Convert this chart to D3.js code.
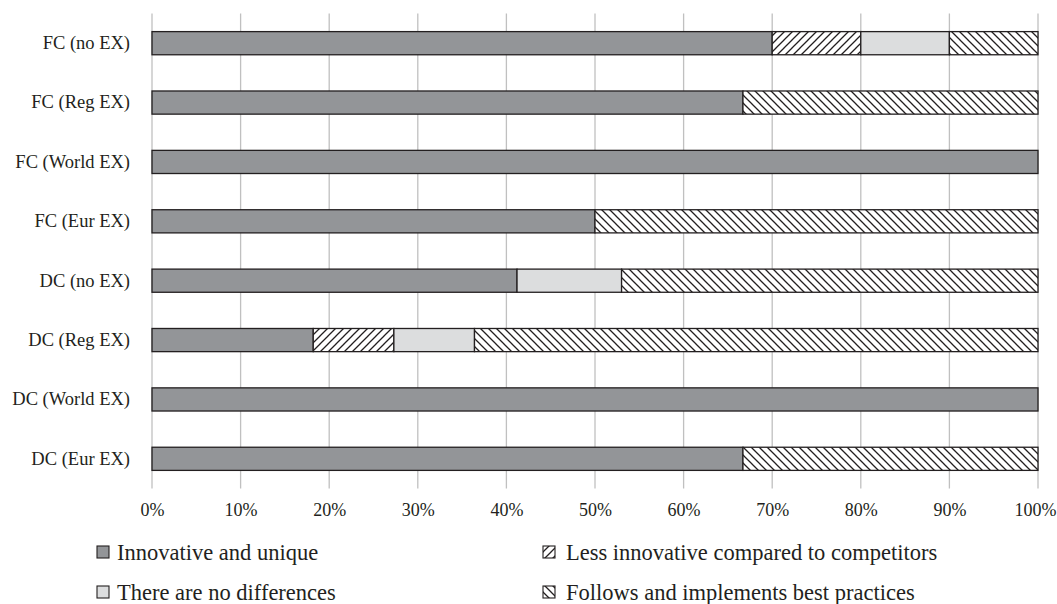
<!DOCTYPE html>
<html><head><meta charset="utf-8">
<script src="https://cdn.jsdelivr.net/npm/d3@7"></script>
<style>body{margin:0;background:#fff}svg text{font-family:"Liberation Serif","DejaVu Serif",serif;fill:#231f20}</style>
</head><body><svg id="c" width="1057" height="604"></svg>
<script>
const categories = ["FC (no EX)","FC (Reg EX)","FC (World EX)","FC (Eur EX)","DC (no EX)","DC (Reg EX)","DC (World EX)","DC (Eur EX)"];
const seriesNames = ["Innovative and unique","Less innovative compared to competitors","There are no differences","Follows and implements best practices"];
const innovative = [70, 66.7, 100, 50, 41.2, 18.2, 100, 66.7];
const lessInnovative = [10, 0, 0, 0, 0, 9.1, 0, 0];
const noDifferences = [10, 0, 0, 0, 11.8, 9.1, 0, 0];
const bestPractices = [10, 33.3, 0, 50, 47.0, 63.6, 0, 33.3];
const tickValues = [0,10,20,30,40,50,60,70,80,90,100];
const tickLabels = ["0%","10%","20%","30%","40%","50%","60%","70%","80%","90%","100%"];

const svg = d3.select("#c");
const defs = svg.append("defs");
function hatch(id, dir){
  const p = defs.append("pattern").attr("id",id).attr("patternUnits","userSpaceOnUse")
    .attr("width",8).attr("height",8);
  p.append("rect").attr("width",8).attr("height",8).attr("fill","#fff");
  const d = dir>0 ? "M-2,10 L10,-2 M-2,2 L2,-2 M6,10 L10,6" : "M-2,-2 L10,10 M-2,6 L2,10 M6,-2 L10,2";
  p.append("path").attr("d",d).attr("stroke","#231f20").attr("stroke-width",1.3);
}
hatch("hf",1); hatch("hb",-1);
const fills = ["#939598","url(#hf)","#dcddde","url(#hb)"];

const x = d3.scaleLinear().domain([0,100]).range([152,1038]);
const y = d3.scaleBand().domain(categories).range([13.5,488.5]).paddingInner(0.61).paddingOuter(0.305);

svg.append("g").selectAll("line").data(tickValues).join("line")
  .attr("x1",d=>x(d)).attr("x2",d=>x(d)).attr("y1",13.5).attr("y2",488.5)
  .attr("stroke","#c0c0c0").attr("stroke-width",1.3);

const ax = d3.axisBottom(x).tickValues(tickValues).tickFormat((d,i)=>tickLabels[i]).tickSize(0).tickPadding(0);
const g = svg.append("g").attr("transform","translate(0,488.5)").call(ax);
g.select(".domain").remove();
g.selectAll("text").attr("font-size",18).attr("dy",0).attr("y",27).style("fill","#231f20")
  .attr("x",d=>d===100?-3:0);

const series = [innovative, lessInnovative, noDifferences, bestPractices];
const rows = categories.map((c,i)=>{ let s=0; return series.map((arr,k)=>{ const v=arr[i]; const r={c,k,x0:s,x1:s+v}; s+=v; return r; }); });
svg.append("g").selectAll("rect").data(rows.flat().filter(d=>d.x1>d.x0)).join("rect")
  .attr("x",d=>x(d.x0)).attr("width",d=>x(d.x1)-x(d.x0))
  .attr("y",d=>y(d.c)).attr("height",y.bandwidth())
  .attr("fill",d=>fills[d.k]).attr("stroke","#231f20").attr("stroke-width",1.3);

const ay = d3.axisLeft(y).tickSize(0).tickPadding(0);
const gy = svg.append("g").attr("transform","translate(130,0)").call(ay);
gy.select(".domain").remove();
gy.selectAll("text").attr("font-size",18.5).style("fill","#231f20");

const legPos = [[97,552],[543,552],[97,592],[543,592]];
const lg = svg.append("g").selectAll("g").data(seriesNames).join("g")
  .attr("transform",(d,i)=>`translate(${legPos[i][0]},${legPos[i][1]})`);
lg.append("rect").attr("x",0).attr("y",-6).attr("width",12).attr("height",12)
  .attr("fill",(d,i)=>fills[i]).attr("stroke","#231f20").attr("stroke-width",1.1);
lg.append("text").attr("x",(d,i)=>i%2?23:20).attr("y",0).attr("dy","0.35em").attr("font-size",22.5).text(d=>d);
</script></body></html>
